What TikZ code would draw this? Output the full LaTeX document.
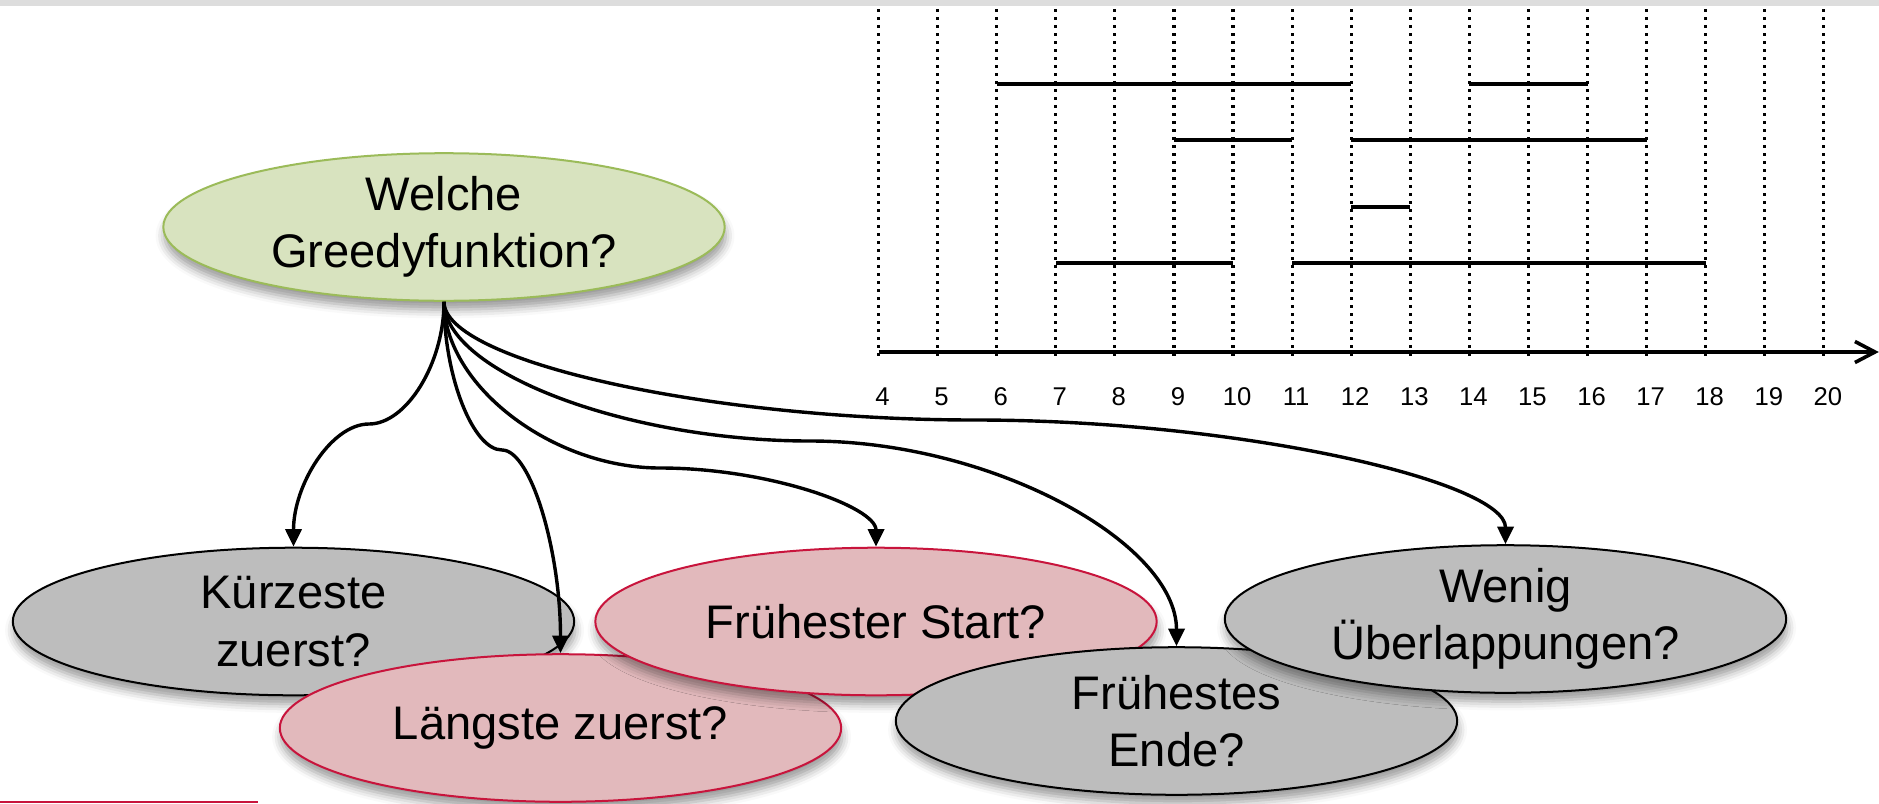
\documentclass[tikz,border=0pt]{standalone}
\usepackage{fontspec}
\setmainfont{Liberation Sans}
\usepackage{tikz}
\usetikzlibrary{arrows.meta}
\usetikzlibrary{shapes.geometric}
\usetikzlibrary{shadows.blur}

\definecolor{qgreen}{HTML}{D8E3BF}
\definecolor{qolive}{HTML}{9BBB59}
\definecolor{qgray}{HTML}{BDBDBD}
\definecolor{qpink}{HTML}{E2B9BC}
\definecolor{qcrimson}{HTML}{C8143C}
\definecolor{qband}{HTML}{DDDDDD}

\begin{document}
\begin{tikzpicture}[x=0.01cm,y=-0.01cm,
		choice/.style={ellipse,draw,line width=0.02cm,minimum width=5.61cm,minimum height=1.475cm,inner sep=0pt,align=center,font=\fontsize{13.4}{16.3}\selectfont,blur shadow={shadow xshift=0.3pt,shadow yshift=-2.5pt,shadow blur radius=2.5pt,shadow opacity=40}},
		graychoice/.style={choice,fill=qgray},
		redchoice/.style={choice,fill=qpink,draw=qcrimson},
		link/.style={-{Triangle[length=0.175cm,width=0.16cm]},black,line width=0.034cm},
		gridline/.style={line width=0.032cm,dash pattern=on 0.032cm off 0.048cm},
		interval/.style={line width=0.04cm}]
			\useasboundingbox (0,0) rectangle (1879,803);
			\fill [qband] (0,0) rectangle (1879,6);
			\fill [qcrimson] (0,800.5) rectangle (258,803);
			% time axis
			\begin{scope}[xshift=6.418cm,x=0.5905cm]
				\foreach \t in {4,...,20}
					\draw [gridline] (\t,9) -- (\t,360);
				\foreach \a/\b/\y in {6/12/84,14/16/84,9/11/140,12/17/140,12/13/207,7/10/263,11/18/263}
					\draw [interval] (\a,\y) -- (\b,\y);
				\draw [-{Straight Barb[length=0.2cm,width=0.21cm]},line width=0.036cm] (4,352) -- (20.93,352);
				\foreach \t in {4,...,20}
					\node [anchor=base,inner sep=0pt,font=\fontsize{7.3}{9}\selectfont] (tick\t) at (\t+0.068,405) {\t};
			\end{scope}
			% question and choices
			\node [choice,fill=qgreen,draw=qolive] (greedy) at (444,227) {Welche\\Greedyfunktion?};
			\node [graychoice] (shortest) at (293.5,621.5) {Kürzeste\\zuerst?};
			\node [redchoice] (longest) at (560.5,728) {Längste zuerst?};
			\node [redchoice] (start) at (876,621.5) {Frühester Start?};
			\node [graychoice] (finish) at (1176.5,721) {Frühestes\\Ende?};
			\node [graychoice] (overlap) at (1505.5,619) {Wenig\\Überlappungen?};
			\draw [link] (greedy.south) .. controls +(0,61.5) and +(37.5,0) .. (369,424) .. controls +(-37.75,0) and +(0,-62) .. (shortest.north);
			\draw [link] (greedy.south) .. controls +(0,74.5) and +(-29,0) .. (502,450) .. controls +(29,0) and +(0,-102) .. (longest.north);
			\draw [link] (greedy.south) .. controls +(0,83.5) and +(-108,0) .. (660,468) .. controls +(108,0) and +(0,-40) .. (start.north);
			\draw [link] (greedy.south) .. controls +(0,70) and +(-183,0) .. (810,441) .. controls +(183,0) and +(0,-103) .. (finish.north);
			\draw [link] (greedy.south) .. controls +(0,59.5) and +(-265,0) .. (975,420) .. controls +(265,0) and +(0,-62.5) .. (overlap.north);
		\end{tikzpicture}
\end{document}
